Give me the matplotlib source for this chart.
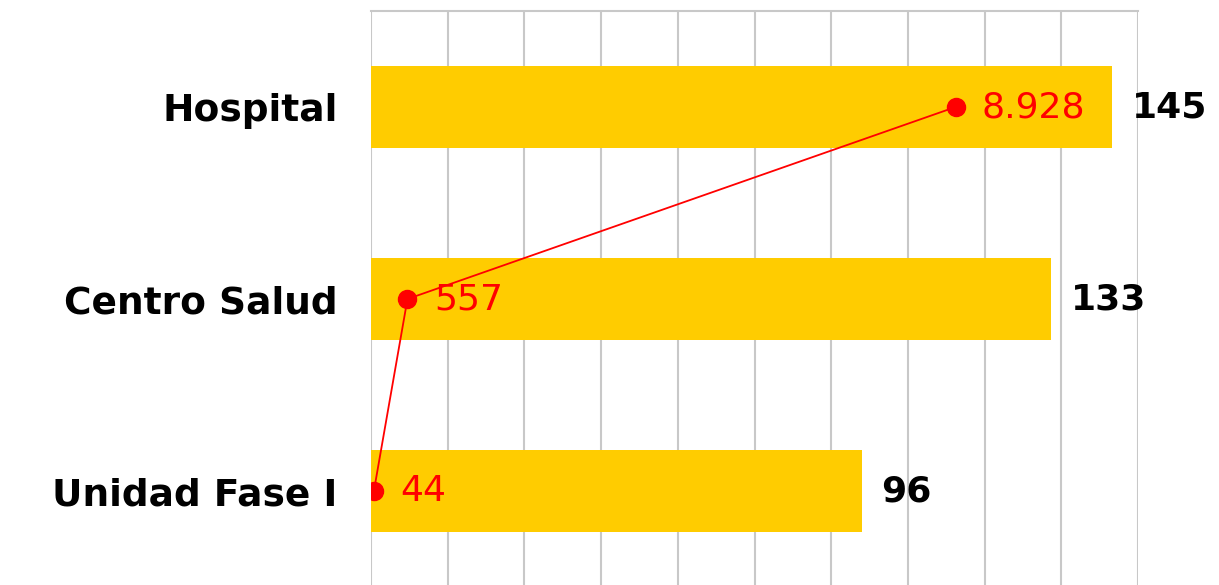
import matplotlib
matplotlib.use("Agg")
import matplotlib.pyplot as plt
import numpy as np

categories = ["Hospital", "Centro Salud", "Unidad Fase I"]
bar_values = [145, 133, 96]
line_values = [8928, 557, 44]
line_labels = ["8.928", "557", "44"]

W, H = 1219, 585
fig = plt.figure(figsize=(W / 100, H / 100), dpi=100)
left, right = 371 / W, 1138 / W
top_px, bot_px = 11, 587
ax = fig.add_axes([left, 1 - bot_px / H, right - left, (bot_px - top_px) / H])

y = np.arange(len(categories))
ax.barh(y, bar_values, height=0.43, color="#FFCC00", zorder=2)
ax.set_xlim(0, 150)
ax.set_ylim(len(categories) - 0.5, -0.5)
ax.set_xticks(np.arange(0, 151, 15))
ax.xaxis.grid(True, color="#C8C8C8", linewidth=1.5, zorder=0)
ax.tick_params(axis="x", length=0, labelbottom=False)
ax.tick_params(axis="y", length=0, pad=24)
ax.set_yticks(y)
ax.set_yticklabels(categories, fontsize=27, fontweight="bold", family="DejaVu Sans")
for s in ["bottom", "right", "left"]:
    ax.spines[s].set_visible(False)
ax.spines["top"].set_color("#C8C8C8")
ax.spines["top"].set_linewidth(1.5)

for yi, v in zip(y, bar_values):
    ax.annotate(str(v), (v, yi), xytext=(14, 0), textcoords="offset points",
                ha="left", va="center", fontsize=26, fontweight="bold", color="black")

ax2 = ax.twiny()
ax2.set_xlim(0, 11714)
ax2.set_ylim(len(categories) - 0.5, -0.5)
ax2.plot(line_values, y, color="#FF0000", linewidth=1.3, marker="o", markersize=13, zorder=5)
ax2.set_xticks([])
for s in ax2.spines.values():
    s.set_visible(False)
for yi, v, lab in zip(y, line_values, line_labels):
    ax2.annotate(lab, (v, yi), xytext=(19, 0), textcoords="offset points",
                 ha="left", va="center", fontsize=26, color="#FF0000")

fig.savefig("out.png", dpi=100)
